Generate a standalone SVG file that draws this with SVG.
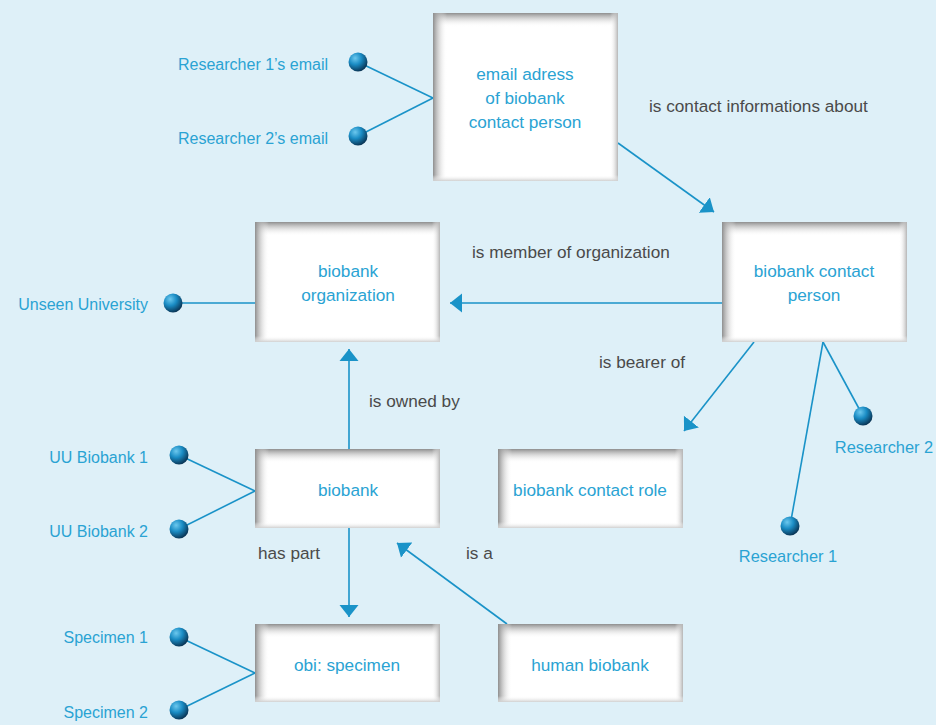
<svg xmlns="http://www.w3.org/2000/svg" width="936" height="725" viewBox="0 0 936 725">
<style>
.box{fill:#ffffff}
.nt{font-family:"Liberation Sans","Open Sans",sans-serif;font-size:17.2px;fill:#2aa3d3;text-anchor:middle}
.side{font-family:"Liberation Sans","Open Sans",sans-serif;font-size:16px;fill:#2aa3d3;text-anchor:end}
.sidec{font-family:"Liberation Sans","Open Sans",sans-serif;font-size:16.4px;fill:#2aa3d3;text-anchor:middle}
.lbl{font-family:"Liberation Sans","Open Sans",sans-serif;font-size:17.2px;fill:#4a4a4a}
.ln{stroke:#1a93c8;stroke-width:1.6;fill:none}
.arr{marker-end:url(#ah)}
.ball{fill:url(#bg)}
</style>
<defs>
<radialGradient id="bg" cx="0.35" cy="0.3" r="0.75">
<stop offset="0" stop-color="#6cc8ee"/>
<stop offset="0.45" stop-color="#1a8cc4"/>
<stop offset="1" stop-color="#082f4e"/>
</radialGradient>
<linearGradient id="sT" x1="0" y1="0" x2="0" y2="1">
<stop offset="0" stop-color="#8e8e8e" stop-opacity="1"/>
<stop offset="1" stop-color="#ffffff" stop-opacity="0"/>
</linearGradient>
<linearGradient id="sL" x1="0" y1="0" x2="1" y2="0">
<stop offset="0" stop-color="#8e8e8e" stop-opacity="1"/>
<stop offset="1" stop-color="#ffffff" stop-opacity="0"/>
</linearGradient>
<linearGradient id="sR" x1="1" y1="0" x2="0" y2="0">
<stop offset="0" stop-color="#b5b5b5" stop-opacity="1"/>
<stop offset="1" stop-color="#ffffff" stop-opacity="0"/>
</linearGradient>
<linearGradient id="sB" x1="0" y1="1" x2="0" y2="0">
<stop offset="0" stop-color="#d0d0d0" stop-opacity="1"/>
<stop offset="1" stop-color="#ffffff" stop-opacity="0"/>
</linearGradient>
<marker id="ah" markerUnits="userSpaceOnUse" markerWidth="16" markerHeight="22" refX="12" refY="10" orient="auto" viewBox="0 0 16 22">
<path d="M12,10 L0,0.5 L0,19.5 z" fill="#1a93c8"/>
</marker>
</defs>
<rect width="936" height="725" fill="#def0f8"/>

<g id="connectors">
<line class="ln" x1="358" y1="62" x2="433" y2="98"/>
<line class="ln" x1="358" y1="136" x2="433" y2="98"/>
<line class="ln arr" x1="618" y1="143" x2="714" y2="212"/>
<line class="ln arr" x1="722" y1="303" x2="450" y2="303"/>
<line class="ln" x1="173" y1="303" x2="255" y2="303"/>
<line class="ln arr" x1="754" y1="342" x2="684" y2="431"/>
<line class="ln" x1="823" y1="342" x2="863" y2="416"/>
<line class="ln" x1="823" y1="342" x2="790" y2="526"/>
<line class="ln arr" x1="349" y1="449" x2="349" y2="349"/>
<line class="ln" x1="179" y1="455" x2="255" y2="491"/>
<line class="ln" x1="179" y1="529" x2="255" y2="491"/>
<line class="ln arr" x1="349" y1="528" x2="349" y2="617"/>
<line class="ln arr" x1="507" y1="624" x2="397" y2="543"/>
<line class="ln" x1="179" y1="637" x2="255" y2="673"/>
<line class="ln" x1="179" y1="710" x2="255" y2="673"/>
</g>

<g id="labels">
<text class="lbl" x="649" y="112">is contact informations about</text>
<text class="lbl" x="472" y="258">is member of organization</text>
<text class="lbl" x="599" y="368">is bearer of</text>
<text class="lbl" x="369" y="407">is owned by</text>
<text class="lbl" x="258" y="559">has part</text>
<text class="lbl" x="466" y="559">is a</text>
</g>

<g id="n-email">
<rect class="box" x="433" y="13" width="185" height="168"/>
<rect x="433" y="13" width="185" height="14" fill="url(#sT)"/>
<rect x="433" y="13" width="14" height="168" fill="url(#sL)"/>
<rect x="610" y="13" width="8" height="168" fill="url(#sR)"/>
<rect x="433" y="175" width="185" height="6" fill="url(#sB)"/>
<text class="nt" x="525" y="80">email adress</text>
<text class="nt" x="525" y="104">of biobank</text>
<text class="nt" x="525" y="128">contact person</text>
</g>

<g id="n-org">
<rect class="box" x="255" y="222" width="185" height="120"/>
<rect x="255" y="222" width="185" height="14" fill="url(#sT)"/>
<rect x="255" y="222" width="14" height="120" fill="url(#sL)"/>
<rect x="432" y="222" width="8" height="120" fill="url(#sR)"/>
<rect x="255" y="336" width="185" height="6" fill="url(#sB)"/>
<text class="nt" x="348" y="277">biobank</text>
<text class="nt" x="348" y="301">organization</text>
</g>

<g id="n-person">
<rect class="box" x="722" y="222" width="185" height="120"/>
<rect x="722" y="222" width="185" height="14" fill="url(#sT)"/>
<rect x="722" y="222" width="14" height="120" fill="url(#sL)"/>
<rect x="899" y="222" width="8" height="120" fill="url(#sR)"/>
<rect x="722" y="336" width="185" height="6" fill="url(#sB)"/>
<text class="nt" x="814" y="277">biobank contact</text>
<text class="nt" x="814" y="301">person</text>
</g>

<g id="n-biobank">
<rect class="box" x="255" y="449" width="185" height="79"/>
<rect x="255" y="449" width="185" height="14" fill="url(#sT)"/>
<rect x="255" y="449" width="14" height="79" fill="url(#sL)"/>
<rect x="432" y="449" width="8" height="79" fill="url(#sR)"/>
<rect x="255" y="522" width="185" height="6" fill="url(#sB)"/>
<text class="nt" x="348" y="496">biobank</text>
</g>

<g id="n-role">
<rect class="box" x="498" y="449" width="185" height="79"/>
<rect x="498" y="449" width="185" height="14" fill="url(#sT)"/>
<rect x="498" y="449" width="14" height="79" fill="url(#sL)"/>
<rect x="675" y="449" width="8" height="79" fill="url(#sR)"/>
<rect x="498" y="522" width="185" height="6" fill="url(#sB)"/>
<text class="nt" x="590" y="496">biobank contact role</text>
</g>

<g id="n-specimen">
<rect class="box" x="255" y="624" width="185" height="78"/>
<rect x="255" y="624" width="185" height="14" fill="url(#sT)"/>
<rect x="255" y="624" width="14" height="78" fill="url(#sL)"/>
<rect x="432" y="624" width="8" height="78" fill="url(#sR)"/>
<rect x="255" y="696" width="185" height="6" fill="url(#sB)"/>
<text class="nt" x="347" y="671">obi: specimen</text>
</g>

<g id="n-human">
<rect class="box" x="498" y="624" width="185" height="78"/>
<rect x="498" y="624" width="185" height="14" fill="url(#sT)"/>
<rect x="498" y="624" width="14" height="78" fill="url(#sL)"/>
<rect x="675" y="624" width="8" height="78" fill="url(#sR)"/>
<rect x="498" y="696" width="185" height="6" fill="url(#sB)"/>
<text class="nt" x="590" y="671">human biobank</text>
</g>

<g id="i-r1email"><circle class="ball" cx="358" cy="62" r="9.5"/><text class="side" x="328" y="70">Researcher 1’s email</text></g>
<g id="i-r2email"><circle class="ball" cx="358" cy="136" r="9.5"/><text class="side" x="328" y="144">Researcher 2’s email</text></g>
<g id="i-unseen"><circle class="ball" cx="173" cy="303" r="9.5"/><text class="side" x="148" y="310">Unseen University</text></g>
<g id="i-uu1"><circle class="ball" cx="179" cy="455" r="9.5"/><text class="side" x="148" y="463">UU Biobank 1</text></g>
<g id="i-uu2"><circle class="ball" cx="179" cy="529" r="9.5"/><text class="side" x="148" y="537">UU Biobank 2</text></g>
<g id="i-sp1"><circle class="ball" cx="179" cy="637" r="9.5"/><text class="side" x="148" y="643">Specimen 1</text></g>
<g id="i-sp2"><circle class="ball" cx="179" cy="710" r="9.5"/><text class="side" x="148" y="718">Specimen 2</text></g>
<g id="i-res2"><circle class="ball" cx="863" cy="416" r="9.5"/><text class="sidec" x="884" y="453">Researcher 2</text></g>
<g id="i-res1"><circle class="ball" cx="790" cy="526" r="9.5"/><text class="sidec" x="788" y="562">Researcher 1</text></g>
</svg>
